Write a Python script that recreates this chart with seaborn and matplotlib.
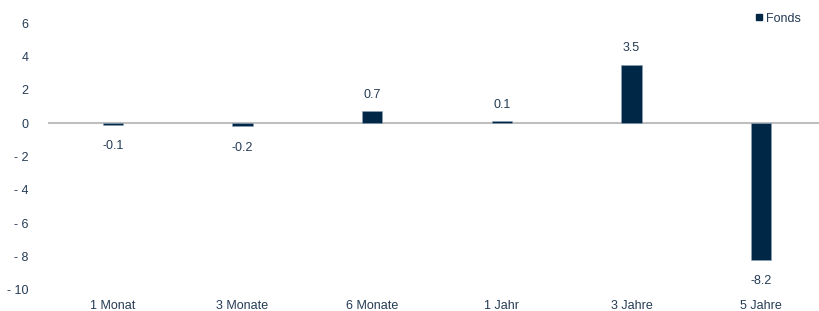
import pandas as pd
import matplotlib.pyplot as plt
import seaborn as sns
from matplotlib.ticker import FuncFormatter
from matplotlib.lines import Line2D

periods = ['1 Monat', '3 Monate', '6 Monate', '1 Jahr', '3 Jahre', '5 Jahre']
fonds = [-0.1, -0.2, 0.7, 0.1, 3.5, -8.2]
yticks = [-10, -8, -6, -4, -2, 0, 2, 4, 6]

navy = '#002846'
textc = '#243b55'

sns.set_style('white')
plt.rcParams['font.family'] = ['Liberation Sans', 'DejaVu Sans']
plt.rcParams['font.size'] = 9

df = pd.DataFrame({'Zeitraum': periods, 'Fonds': fonds})

fig = plt.figure(figsize=(8.2, 3.11), dpi=100)
ax = fig.add_axes([48 / 820, 21 / 311, 778 / 820, 267 / 311])
sns.barplot(data=df, x='Zeitraum', y='Fonds', color=navy, width=0.155,
            saturation=1, ax=ax, edgecolor='#8fa3b8', linewidth=0.4)

ax.set_xlim(-0.5, 5.5)
ax.set_ylim(-10, 6)
ax.set_yticks(yticks)
ax.yaxis.set_major_formatter(FuncFormatter(lambda v, p: f'- {abs(int(v))}' if v < 0 else f'{int(v)}'))
ax.axhline(0, color='#bfbfbf', lw=1.5, zorder=0)
for s in ax.spines.values():
    s.set_visible(False)
ax.tick_params(axis='both', length=0, colors=textc, labelsize=9)
ax.tick_params(axis='x', pad=7.5)
ax.tick_params(axis='y', pad=14)
ax.set_xlabel('')
ax.set_ylabel('')

for i, v in enumerate(fonds):
    off = 12 if v >= 0 else -15.5
    ax.annotate(f'{v:.1f}', (i, v), xytext=(0, off), textcoords='offset points',
                ha='center', va='center', color=textc, fontsize=9)

handle = Line2D([], [], marker='s', color=navy, linestyle='none', markersize=5)
fig.legend([handle], ['Fonds'], loc='upper right', bbox_to_anchor=(0.99, 0.995),
           frameon=False, handletextpad=0.0, handlelength=1.0, fontsize=9,
           labelcolor=textc)

fig.savefig('out.png', dpi=100)
